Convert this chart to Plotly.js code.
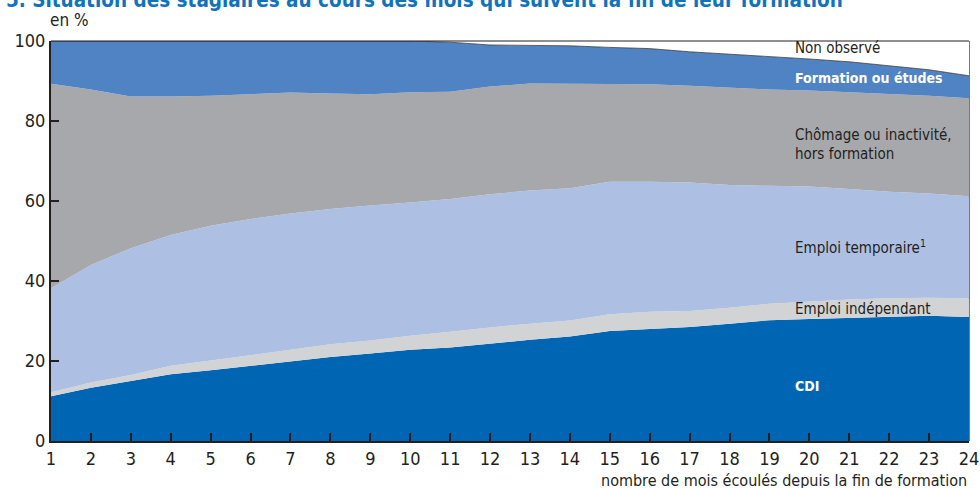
<!DOCTYPE html>
<html>
<head>
<meta charset="utf-8">
<script src="https://cdn.plot.ly/plotly-3.0.1.min.js"></script>
<style>
  html, body { margin: 0; padding: 0; background: #fff; }
  #chart { width: 980px; height: 488px; }
</style>
</head>
<body>
<div id="chart"></div>
<script>
/* ---- Data: share of trainees (%) by months since end of training ---- */
var months = [1, 2, 3, 4, 5, 6, 7, 8, 9, 10, 11, 12, 13, 14, 15, 16, 17, 18, 19, 20, 21, 22, 23, 24];

var cdi         = [11.2, 13.3, 15.0, 16.7, 17.7, 18.8, 19.8, 21.0, 21.9, 22.8, 23.4, 24.4,
                   25.3, 26.1, 27.5, 28.0, 28.5, 29.3, 30.2, 30.5, 30.8, 31.1, 31.3, 31.0];
var independant = [1.0, 1.3, 1.5, 2.1, 2.4, 2.7, 3.1, 3.2, 3.2, 3.5, 3.9, 4.0,
                   4.0, 4.0, 4.2, 4.3, 4.0, 4.0, 4.1, 4.3, 4.6, 4.6, 4.5, 4.7];
var temporaire  = [26.0, 29.4, 31.7, 32.7, 33.7, 34.0, 34.0, 33.8, 33.8, 33.3, 33.2, 33.3,
                   33.3, 33.1, 33.1, 32.5, 32.1, 30.7, 29.5, 28.8, 27.6, 26.6, 26.1, 25.5];
var chomage     = [51.1, 43.9, 37.9, 34.6, 32.5, 31.2, 30.2, 28.9, 27.8, 27.6, 26.8, 26.9,
                   26.8, 26.1, 24.4, 24.4, 24.2, 24.3, 24.1, 24.0, 24.2, 24.5, 24.4, 24.5];
var formation   = [10.7, 12.1, 13.9, 13.9, 13.7, 13.3, 12.9, 13.1, 13.3, 12.8, 12.4, 10.4,
                   9.5, 9.5, 9.2, 8.9, 8.5, 8.4, 8.3, 7.9, 7.6, 7.0, 6.5, 5.6];
var nonObserve  = [0, 0, 0, 0, 0, 0, 0, 0, 0, 0, 0.3, 1.0,
                   1.1, 1.2, 1.6, 1.9, 2.7, 3.3, 3.8, 4.5, 5.2, 6.2, 7.2, 8.7];

var yTicks = [0, 20, 40, 60, 80, 100];

var FONT = '"Liberation Sans Narrow", "DejaVu Sans Condensed", "Arial Narrow", sans-serif';
var INK = '#231f20';

function areaTrace(name, values, color, lineColor, lineWidth) {
  return {
    x: months, y: values, name: name,
    type: 'scatter', mode: 'lines',
    stackgroup: 'one',
    fillcolor: color,
    line: { color: lineColor || color, width: lineWidth || 0, shape: 'linear' },
    hoverinfo: 'skip'
  };
}

var traces = [
  areaTrace('CDI', cdi, '#0066b3'),
  areaTrace('Emploi indépendant', independant, '#d1d3d5'),
  areaTrace('Emploi temporaire', temporaire, '#adbfe3'),
  areaTrace('Chômage ou inactivité, hors formation', chomage, '#a7a8ac'),
  areaTrace('Formation ou études', formation, '#4f83c4', '#3a3a3a', 0.8),
  areaTrace('Non observé', nonObserve, '#ffffff')
];

function label(text, y, bold) {
  return {
    xref: 'paper', yref: 'y', x: 0.808, y: y,
    xanchor: 'left', yanchor: 'middle', showarrow: false,
    text: bold ? '<b>' + text + '</b>' : text,
    font: { family: FONT, size: bold ? 14 : 15, color: bold ? '#ffffff' : INK }
  };
}

var layout = {
  width: 980, height: 488,
  margin: { l: 51, r: 11, t: 41, b: 47 },
  paper_bgcolor: '#ffffff', plot_bgcolor: '#ffffff',
  showlegend: false,
  font: { family: FONT, size: 18, color: INK },
  title: {
    text: '<b>5. Situation des stagiaires au cours des mois qui suivent la fin de leur formation</b>',
    font: { family: FONT, size: 20.5, color: '#1173b9' },
    xref: 'container', yref: 'container',
    x: 0.006, xanchor: 'left',
    y: 0.985, yanchor: 'bottom'
  },
  xaxis: {
    range: [1, 24], tickvals: months, ticks: 'inside', ticklen: 8, tickwidth: 2,
    tickcolor: INK, showline: true, linecolor: INK, linewidth: 2,
    showgrid: false, zeroline: false, fixedrange: true,
    tickfont: { family: FONT, size: 18, color: INK }
  },
  yaxis: {
    range: [0, 100], tickvals: yTicks, ticks: 'inside', ticklen: 8, tickwidth: 2,
    tickcolor: INK, showline: true, linecolor: INK, linewidth: 2,
    showgrid: false, zeroline: false, fixedrange: true,
    tickfont: { family: FONT, size: 18, color: INK }
  },
  shapes: [
    // thin frame: top edge drawn over the areas, right edge only visible in the white part
    { type: 'line', xref: 'paper', yref: 'paper', x0: 0, x1: 1, y0: 1, y1: 1,
      line: { color: INK, width: 1.2 }, layer: 'above' },
    { type: 'line', xref: 'paper', yref: 'paper', x0: 1, x1: 1, y0: 0, y1: 1,
      line: { color: INK, width: 1.2 }, layer: 'below' }
  ],
  annotations: [
    label('Non observé', 98.2, false),
    label('Formation ou études', 90.8, true),
    label('Chômage ou inactivité,', 76.5, false),
    label('hors formation', 71.8, false),
    label('Emploi temporaire<sup>1</sup>', 48.5, false),
    label('Emploi indépendant', 33.0, false),
    label('CDI', 13.8, true),
    {
      xref: 'paper', yref: 'paper', x: -0.003, y: 1.053,
      xanchor: 'left', yanchor: 'middle', showarrow: false,
      text: 'en %', font: { family: FONT, size: 17, color: INK }
    },
    {
      xref: 'paper', yref: 'paper', x: 1, y: -0.098,
      xanchor: 'right', yanchor: 'middle', showarrow: false,
      text: 'nombre de mois écoulés depuis la fin de formation',
      font: { family: FONT, size: 16, color: INK }
    }
  ]
};

Plotly.newPlot('chart', traces, layout, { displayModeBar: false, staticPlot: true });
</script>
</body>
</html>
